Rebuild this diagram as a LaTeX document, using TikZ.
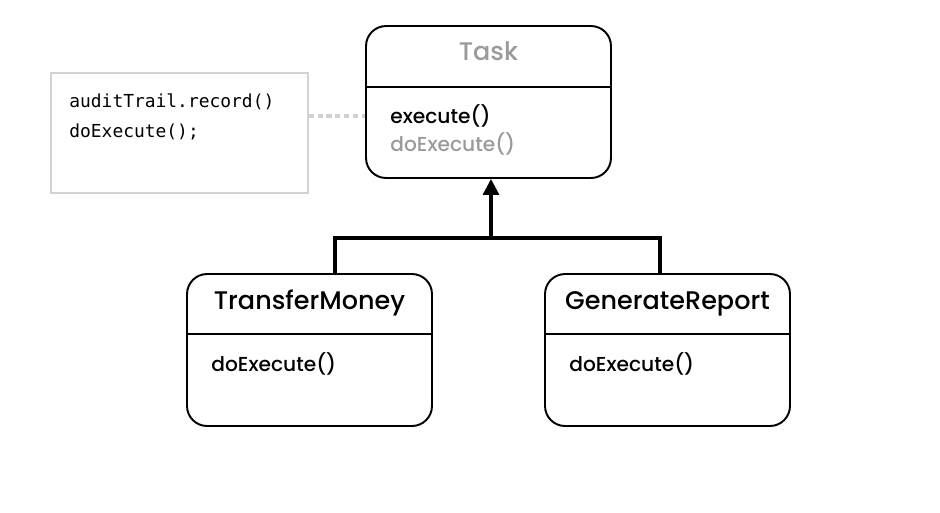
\documentclass[tikz,border=0pt]{standalone}
\usepackage{fontspec}
\setmainfont{Poppins Medium}
\newfontfamily\codefont{DejaVu Sans Mono}
\usepackage{tikz}
\usetikzlibrary{arrows.meta,calc,positioning}
\definecolor{faded}{HTML}{9A9A9A}
\definecolor{noteline}{HTML}{D2D2D2}
\tikzset{
  classbox/.style={draw,line width=1.1pt,rounded corners=0.4cm,minimum width=4.9cm,minimum height=3.04cm,inner sep=0pt},
  title/.style={font=\fontsize{14.5}{16}\selectfont,inner sep=0pt,anchor=base},
  method/.style={font=\fontsize{11.5}{13}\selectfont,inner sep=0pt,anchor=base west},
  inherit/.style={line width=1.8pt},
}
\begin{document}
\begin{tikzpicture}[x=0.02cm,y=-0.02cm]
\useasboundingbox (0,0) rectangle (940,512);
% note
\node[draw=noteline,line width=1pt,minimum width=5.14cm,minimum height=2.4cm,inner sep=0pt] (note) at (179.5,133) {};
\node[font=\codefont\fontsize{10.2}{12}\selectfont,inner sep=0pt,anchor=base west] (rec) at (69,107) {auditTrail.record()};
\node[font=\codefont\fontsize{10.2}{12}\selectfont,inner sep=0pt,anchor=base west] (call) at (69,137) {doExecute();};
% base class
\node[classbox] (task) at (488.5,102) {};
\draw[line width=1.1pt] (task.west |- 0,87) -- (task.east |- 0,87);
\node[title,text=faded] (taskname) at (488.5,60) {Task};
\node[method] (exec) at (390,123) {execute()};
\node[method,text=faded] (hook) at (390,151) {doExecute()};
\draw[noteline,line width=2pt,dash pattern=on 3pt off 2pt] (note.east |- 0,116) -- (task.west |- 0,116);
% subclasses
\node[classbox] (transfer) at (309.5,350) {};
\draw[line width=1.1pt] (transfer.west |- 0,334) -- (transfer.east |- 0,334);
\node[title] (transfername) at (309.5,309) {TransferMoney};
\node[method] (transferhook) at (211,371) {doExecute()};
\node[classbox] (report) at (667.5,350) {};
\draw[line width=1.1pt] (report.west |- 0,334) -- (report.east |- 0,334);
\node[title] (reportname) at (667.5,309) {GenerateReport};
\node[method] (reporthook) at (569,371) {doExecute()};
% inheritance
\coordinate (join) at (491,238);
\draw[inherit] ([xshift=0.51cm]transfer.north) |- (join) -| ([xshift=-0.15cm]report.north);
\draw[inherit,-{Triangle[length=0.32cm,width=0.32cm]}] (join) -- (join |- task.south);
\end{tikzpicture}
\end{document}
